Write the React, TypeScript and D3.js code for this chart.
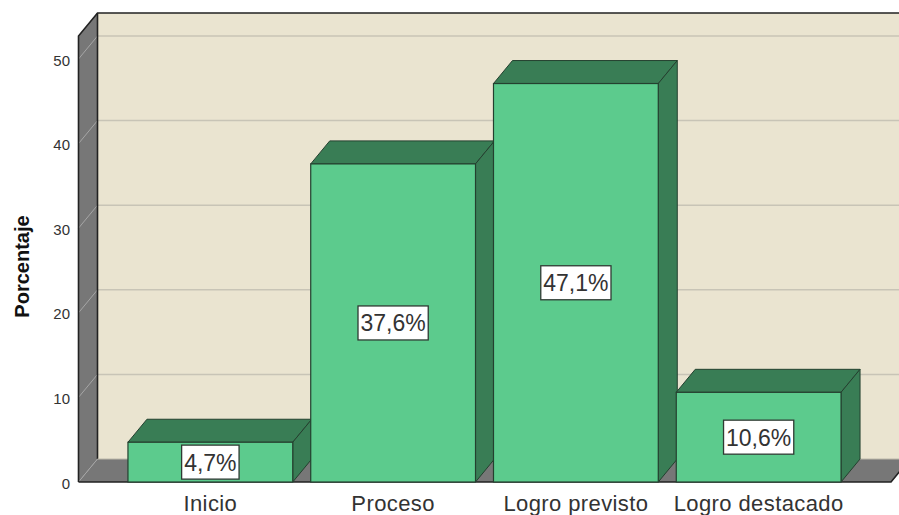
import React, { useEffect, useRef } from "react";
import * as d3 from "d3";

const categories = ["Inicio", "Proceso", "Logro previsto", "Logro destacado"];
const percentages = [4.7, 37.6, 47.1, 10.6];
const percentLabels = ["4,7%", "37,6%", "47,1%", "10,6%"];
const yTicks = [0, 10, 20, 30, 40, 50];
const yTitle = "Porcentaje";

const WIDTH = 899;
const HEIGHT = 515;
const DX = 19;
const DY = -23;
const FONT = "'Liberation Sans', Arial, sans-serif";

export default function App() {
  const ref = useRef<SVGSVGElement | null>(null);
  useEffect(() => {
    const svg = d3.select(ref.current);
    svg.selectAll("*").remove();
    const y = d3.scaleLinear().domain([0, 50]).range([482, 59]);
    const x = d3
      .scaleBand<string>()
      .domain(categories)
      .range([119, 850])
      .paddingInner(0.0984)
      .paddingOuter(0.049);
    const left = 78.5;
    const right = 891;
    const top = 36;
    const bottom = y(0);
    const poly = (pts: number[][]) => pts.map((p) => p.join(",")).join(" ");

    // back wall
    svg.append("rect")
      .attr("x", left + DX).attr("y", top + DY)
      .attr("width", right - left).attr("height", bottom - top)
      .attr("fill", "#EAE4D0");
    // left wall
    svg.append("polygon")
      .attr("points", poly([[left, top], [left + DX, top + DY], [left + DX, bottom + DY], [left, bottom]]))
      .attr("fill", "#777777");
    // floor
    svg.append("polygon")
      .attr("points", poly([[left, bottom], [left + DX, bottom + DY], [right + DX, bottom + DY], [right, bottom]]))
      .attr("fill", "#777777");

    // gridlines
    yTicks.forEach((t) => {
      const v = y(t);
      if (t > 0) {
        svg.append("line")
          .attr("x1", left + DX).attr("x2", right + DX)
          .attr("y1", v + DY).attr("y2", v + DY)
          .attr("stroke", "#C8C4B6").attr("stroke-width", 1.5);
      }
      svg.append("line")
        .attr("x1", left).attr("x2", left + DX)
        .attr("y1", v).attr("y2", v + DY)
        .attr("stroke", "#A6A6A6").attr("stroke-width", 1);
    });

    // frame
    const frame = "#222222";
    svg.append("path")
      .attr("d", `M${left},${bottom}V${top}L${left + DX},${top + DY}H${right + DX}`)
      .attr("fill", "none").attr("stroke", frame).attr("stroke-width", 1.6);
    svg.append("line")
      .attr("x1", left + DX).attr("x2", left + DX)
      .attr("y1", top + DY).attr("y2", bottom + DY)
      .attr("stroke", frame).attr("stroke-width", 1.6);
    svg.append("line")
      .attr("x1", left + DX).attr("x2", right + DX)
      .attr("y1", bottom + DY).attr("y2", bottom + DY)
      .attr("stroke", "#BDB9AB").attr("stroke-width", 1);
    svg.append("path")
      .attr("d", `M${left},${bottom}H${right}L${right + DX},${bottom + DY}`)
      .attr("fill", "none").attr("stroke", frame).attr("stroke-width", 1.6);

    // bars
    const edge = "#24402F";
    categories.forEach((c, i) => {
      const x0 = x(c) as number;
      const x1 = x0 + x.bandwidth();
      const yt = y(percentages[i]);
      const g = svg.append("g");
      g.append("polygon")
        .attr("points", poly([[x0, yt], [x0 + DX, yt + DY], [x1 + DX, yt + DY], [x1, yt]]))
        .attr("fill", "#397D55").attr("stroke", edge).attr("stroke-width", 1);
      g.append("polygon")
        .attr("points", poly([[x1, yt], [x1 + DX, yt + DY], [x1 + DX, bottom + DY], [x1, bottom]]))
        .attr("fill", "#397D55").attr("stroke", edge).attr("stroke-width", 1);
      g.append("rect")
        .attr("x", x0).attr("y", yt)
        .attr("width", x1 - x0).attr("height", bottom - yt)
        .attr("fill", "#5CCB8D").attr("stroke", edge).attr("stroke-width", 1.2);
    });

    // value labels
    categories.forEach((c, i) => {
      const cx = (x(c) as number) + x.bandwidth() / 2;
      const cy = (y(percentages[i]) + bottom) / 2;
      const g = svg.append("g");
      const box = g.append("rect");
      const text = g.append("text")
        .attr("x", cx).attr("y", cy + 8.5)
        .attr("text-anchor", "middle")
        .attr("font-family", FONT).attr("font-size", 23)
        .attr("fill", "#333333")
        .text(percentLabels[i]);
      const w = (text.node() as SVGTextElement).getComputedTextLength() + 5;
      box.attr("x", cx - w / 2).attr("y", cy - 17)
        .attr("width", w).attr("height", 34)
        .attr("fill", "#FFFFFF").attr("stroke", "#2F3A33").attr("stroke-width", 1.3);
    });

    // y tick labels
    yTicks.forEach((t) => {
      svg.append("text")
        .attr("x", 70).attr("y", y(t) + 6.5)
        .attr("text-anchor", "end")
        .attr("font-family", FONT).attr("font-size", 15)
        .attr("fill", "#333333")
        .text(String(t));
    });

    // category labels
    categories.forEach((c) => {
      svg.append("text")
        .attr("x", (x(c) as number) + x.bandwidth() / 2).attr("y", 511)
        .attr("text-anchor", "middle")
        .attr("font-family", FONT).attr("font-size", 22)
        .attr("letter-spacing", 0.4)
        .attr("fill", "#333333")
        .text(c);
    });

    // y title
    svg.append("text")
      .attr("transform", "translate(28.5,266.5) rotate(-90)")
      .attr("text-anchor", "middle")
      .attr("font-family", FONT).attr("font-size", 20).attr("font-weight", "bold")
      .attr("fill", "#111111")
      .text(yTitle);
  }, []);
  return (
    <svg
      ref={ref}
      width={WIDTH}
      height={HEIGHT}
      style={{ position: "absolute", left: 0, top: 0, background: "#FFFFFF" }}
    />
  );
}
